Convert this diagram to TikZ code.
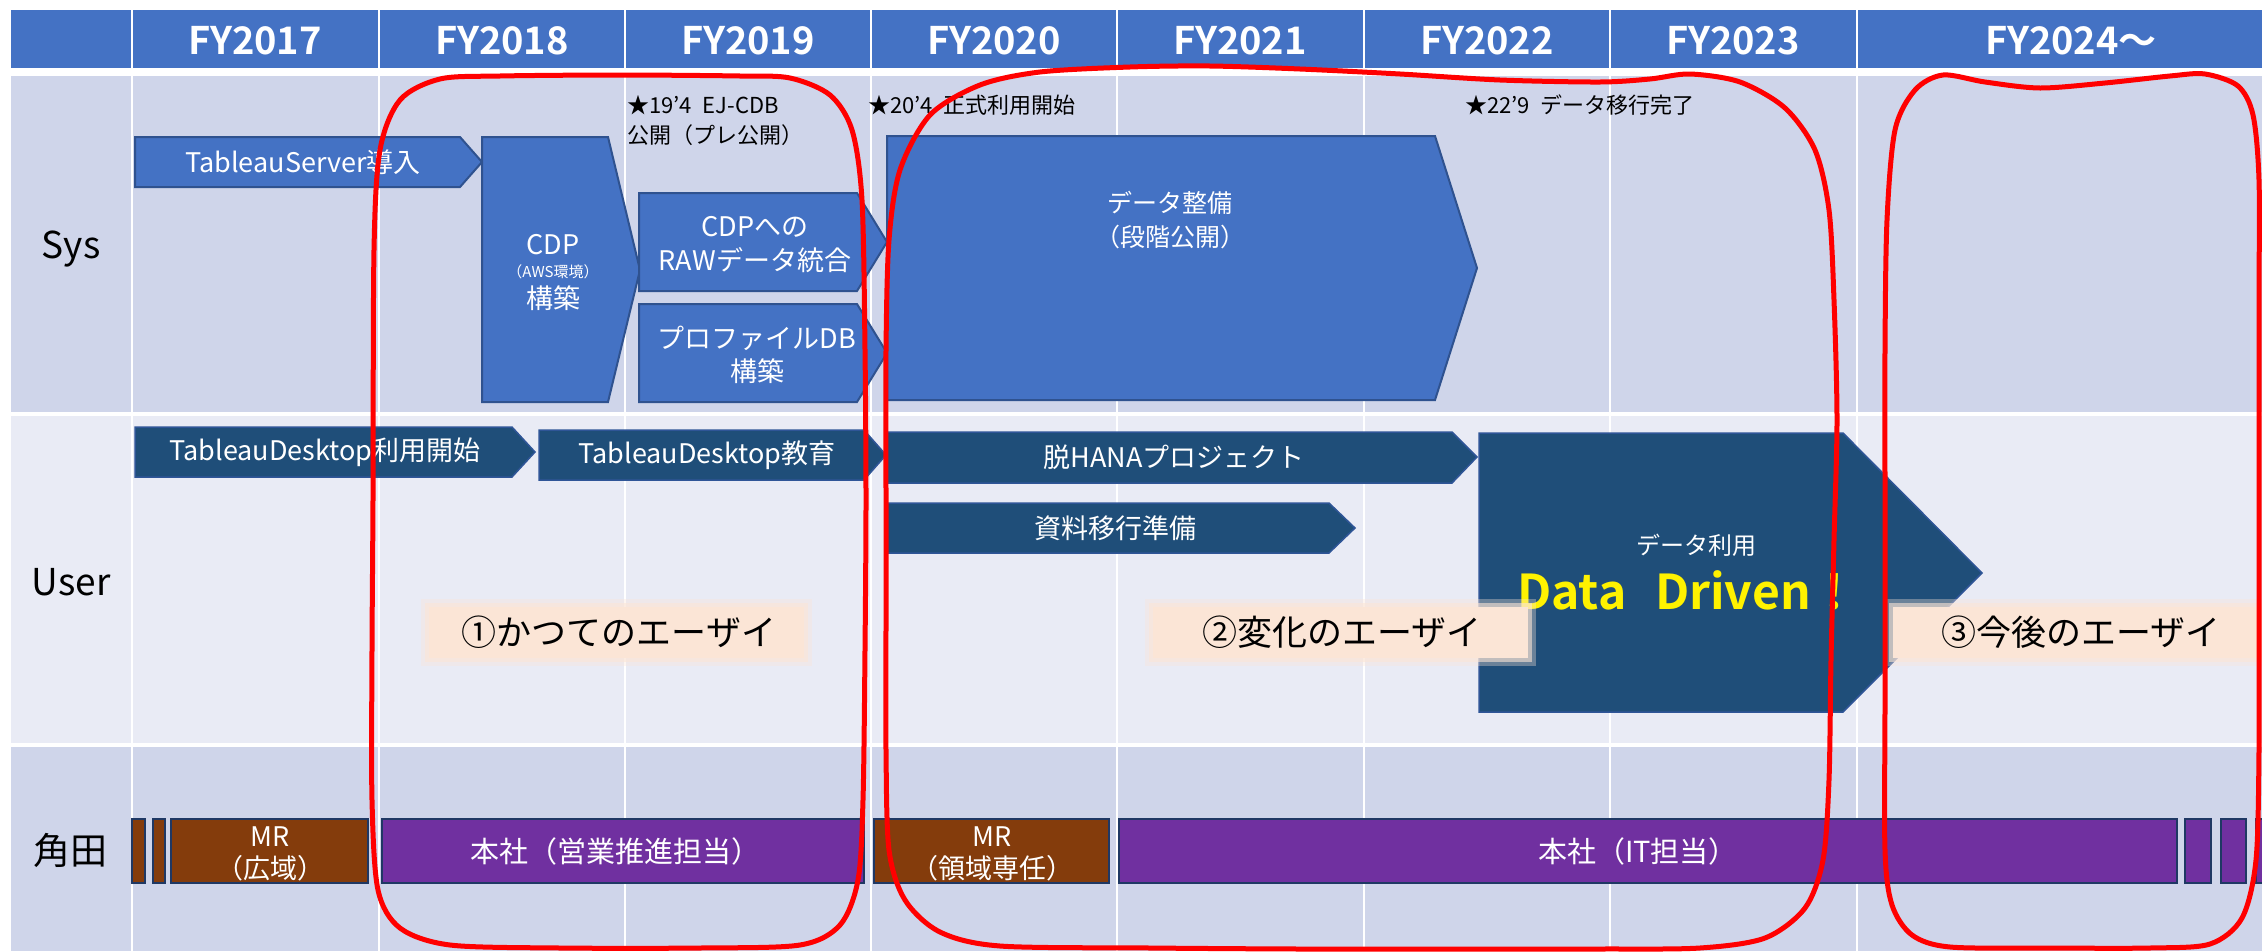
\documentclass[tikz,border=0pt]{standalone}
\usepackage{fontspec}
\setmainfont{Noto Sans CJK JP}[BoldFont={Noto Sans CJK JP Bold}]

\definecolor{hdrblue}{HTML}{4472C4}
\definecolor{bandA}{HTML}{CFD5EA}
\definecolor{bandB}{HTML}{E9EBF5}
\definecolor{sysline}{HTML}{2F528F}
\definecolor{usrfill}{HTML}{1F4E79}
\definecolor{usrline}{HTML}{2F5597}
\definecolor{mrbrown}{HTML}{843C0C}
\definecolor{hqpurple}{HTML}{7030A0}
\definecolor{barline}{HTML}{1F3864}
\definecolor{peach}{HTML}{FBE5D6}

\tikzset{
  syschev/.style={fill=hdrblue, draw=sysline, line width=2pt},
  usrchev/.style={fill=usrfill, draw=usrline, line width=1.5pt},
  bar/.style={draw=barline, line width=2.5pt},
  grid/.style={white, line width=2pt},
  hdr/.style={text=white, inner sep=0pt, font=\fontsize{38}{40}\bfseries\selectfont},
  rowlbl/.style={inner sep=0pt, font=\fontsize{37}{40}\selectfont},
  wtxt/.style={text=white, inner sep=0pt, font=\fontsize{27}{30}\selectfont},
  note/.style={inner sep=0pt, font=\fontsize{22}{24}\selectfont},
  era/.style={inner sep=0pt, font=\fontsize{35}{40}\selectfont},
  outline/.style={red, line width=5pt}
}

\begin{document}
\begin{tikzpicture}[x=1pt, y=-1pt]
    \useasboundingbox (0,0) rectangle (2262,951);
    \clip (0,0) rectangle (2262,951);

    \fill[hdrblue] (11,10) rectangle (2262,68);
    \fill[bandA] (11,76) rectangle (2262,412);
    \fill[bandB] (11,416) rectangle (2262,743);
    \fill[bandA] (11,747) rectangle (2262,951);
    \draw[grid] (132,10) -- (132,951);
    \draw[grid] (379,10) -- (379,951);
    \draw[grid] (625,10) -- (625,951);
    \draw[grid] (871,10) -- (871,951);
    \draw[grid] (1117,10) -- (1117,951);
    \draw[grid] (1364,10) -- (1364,951);
    \draw[grid] (1610,10) -- (1610,951);
    \draw[grid] (1857,10) -- (1857,951);

    \node[hdr] (fy17) at (255,41) {FY2017};
    \node[hdr] (fy18) at (502,41) {FY2018};
    \node[hdr] (fy19) at (748,41) {FY2019};
    \node[hdr] (fy20) at (994,41) {FY2020};
    \node[hdr] (fy21) at (1240,41) {FY2021};
    \node[hdr] (fy22) at (1487,41) {FY2022};
    \node[hdr] (fy23) at (1733,41) {FY2023};
    \node[hdr] (fy24) at (2071,41) {FY2024～};

    \node[rowlbl, anchor=base] (sys) at (71,258) {Sys};
    \node[rowlbl, anchor=base] (user) at (71,595) {User};
    \node[rowlbl, anchor=base] (kakuta) at (70,864) {角田};

    \draw[syschev] (135,137) -- (460,137) -- (482,162) -- (460,187) -- (135,187) -- cycle;
    \node[wtxt] (tsrv) at (303,162) {TableauServer導入};
    \draw[syschev] (482,137) -- (608,137) -- (640,270) -- (608,402) -- (482,402) -- cycle;
    \node[wtxt] (cdp) at (553,245) {CDP};
    \node[wtxt, font=\fontsize{15}{17}\selectfont] (aws) at (553,272) {（AWS環境）};
    \node[wtxt] (cdpb) at (553,298) {構築};
    \draw[syschev] (639,193) -- (857,193) -- (887,242) -- (857,291) -- (639,291) -- cycle;
    \node[wtxt] (raw1) at (755,227) {CDPへの};
    \node[wtxt] (raw2) at (755,260) {RAWデータ統合};
    \draw[syschev] (639,304) -- (857,304) -- (887,353) -- (857,402) -- (639,402) -- cycle;
    \node[wtxt] (prof1) at (757,338) {プロファイルDB};
    \node[wtxt] (prof2) at (757,371) {構築};
    \draw[syschev] (887,136) -- (1435,136) -- (1477,268) -- (1435,400) -- (887,400) -- cycle;
    \node[wtxt, font=\fontsize{25}{28}\selectfont] (seibi1) at (1170,203) {データ整備};
    \node[wtxt, font=\fontsize{25}{28}\selectfont] (seibi2) at (1170,237) {（段階公開）};

    \node[note, anchor=west] (ms19a) at (627,105) {★19’4\hspace{.5em}EJ-CDB};
    \node[note, anchor=west] (ms19b) at (627,135) {公開（プレ公開）};
    \node[note, anchor=west] (ms20) at (868,105) {★20’4\hspace{.5em}正式利用開始};
    \node[note, anchor=west] (ms22) at (1465,105) {★22’9\hspace{.5em}データ移行完了};

    \draw[usrchev] (135,427) -- (512,427) -- (535,452) -- (512,477) -- (135,477) -- cycle;
    \node[wtxt] (tdesk) at (325,452) {TableauDesktop利用開始};
    \draw[usrchev] (539,430) -- (864,430) -- (886,455) -- (864,480) -- (539,480) -- cycle;
    \node[wtxt] (tedu) at (707,455) {TableauDesktop教育};
    \draw[usrchev] (886,432) -- (1452,432) -- (1477,457) -- (1452,483) -- (886,483) -- cycle;
    \node[wtxt] (hana) at (1174,457) {脱HANAプロジェクト};
    \draw[usrchev] (886,503) -- (1329,503) -- (1355,528) -- (1329,553) -- (886,553) -- cycle;
    \node[wtxt] (shiryo) at (1115,528) {資料移行準備};
    \draw[usrchev] (1479,433) -- (1843,433) -- (1982,573) -- (1843,712) -- (1479,712) -- cycle;
    \node[wtxt, font=\fontsize{24}{26}\selectfont] (riyo) at (1696,545) {データ利用};
    \node[inner sep=0pt, text=yellow, font=\fontsize{48}{50}\bfseries\selectfont] (dd) at (1688,590) {Data\hspace{.6em}Driven！};

    \fill[peach, opacity=.35] (421,599) rectangle (812,666);
    \fill[peach, opacity=.6] (425,603) rectangle (808,662);
    \fill[peach] (429,607) rectangle (804,658);
    \node[era] (era1) at (619,632) {①かつてのエーザイ};
    \fill[peach, opacity=.35] (1145,599) rectangle (1536,666);
    \fill[peach, opacity=.6] (1149,603) rectangle (1532,662);
    \fill[peach] (1153,607) rectangle (1528,658);
    \node[era] (era2) at (1342,632) {②変化のエーザイ};
    \fill[peach, opacity=.35] (1885,599) rectangle (2262,666);
    \fill[peach, opacity=.6] (1889,603) rectangle (2262,662);
    \fill[peach] (1893,607) rectangle (2262,658);
    \node[era] (era3) at (2081,632) {③今後のエーザイ};

    \draw[bar, fill=mrbrown] (132,819) rectangle (145,883);
    \draw[bar, fill=mrbrown] (153,819) rectangle (165,883);
    \draw[bar, fill=mrbrown] (171,819) rectangle (368,883);
    \node[wtxt] (mr1a) at (270,837) {MR};
    \node[wtxt] (mr1b) at (270,868) {（広域）};
    \draw[bar, fill=hqpurple] (382,819) rectangle (864,883);
    \node[wtxt, font=\fontsize{29}{32}\selectfont] (hq1) at (615,851) {本社（営業推進担当）};
    \draw[bar, fill=mrbrown] (874,819) rectangle (1109,883);
    \node[wtxt] (mr2a) at (992,837) {MR};
    \node[wtxt] (mr2b) at (992,868) {（領域専任）};
    \draw[bar, fill=hqpurple] (1119,819) rectangle (2177,883);
    \node[wtxt, font=\fontsize{29}{32}\selectfont] (hq2) at (1638,851) {本社（IT担当）};
    \draw[bar, fill=hqpurple] (2185,819) rectangle (2211,883);
    \draw[bar, fill=hqpurple] (2221,819) rectangle (2246,883);
    \draw[bar, fill=hqpurple] (2256,819) rectangle (2280,883);

    \draw[outline] plot[smooth cycle, tension=0.5] coordinates {
      (373,500) (374,250) (380,150) (400,100) (440,79) (500,76) (620,75) (740,76)
      (790,78) (830,95) (852,130) (862,200) (865,350) (866,500) (865,650) (863,800)
      (858,880) (840,925) (800,945) (700,948) (560,948) (450,945) (400,928)
      (378,890) (372,800) (372,650)};
    \draw[outline] plot[smooth cycle, tension=0.5] coordinates {
      (886,500) (886,350) (889,240) (900,170) (930,115) (980,85) (1040,72) (1130,67)
      (1210,66) (1300,69) (1400,74) (1500,80) (1600,82) (1650,79) (1690,74)
      (1740,82) (1785,108) (1815,150) (1829,210) (1834,300) (1837,420) (1834,540)
      (1831,660) (1829,780) (1823,860) (1805,908) (1765,938) (1700,948) (1600,949)
      (1450,949) (1300,949) (1150,948) (1000,946) (940,932) (905,900) (889,850)
      (886,750) (886,620)};
    \draw[outline] plot[smooth cycle, tension=0.5] coordinates {
      (1885,500) (1885,350) (1887,220) (1895,130) (1915,90) (1943,75) (1985,82)
      (2040,88) (2105,83) (2170,76) (2205,74) (2238,86) (2253,115) (2259,180)
      (2259,300) (2259,450) (2259,600) (2259,750) (2256,860) (2242,918) (2210,944)
      (2150,948) (2050,948) (1950,947) (1912,935) (1892,905) (1885,850) (1885,700)};
\end{tikzpicture}
\end{document}
